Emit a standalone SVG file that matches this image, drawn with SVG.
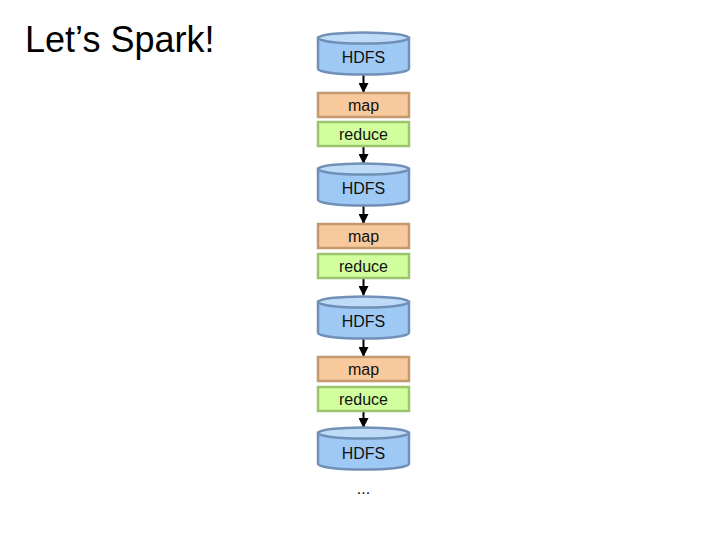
<svg xmlns="http://www.w3.org/2000/svg" width="720" height="540" viewBox="0 0 720 540">
<defs>
<style>
.t{font-family:"Liberation Sans",Arial,sans-serif;font-size:16px;fill:#111;text-anchor:middle}
.title{font-family:"Liberation Sans",Arial,sans-serif;font-size:36px;fill:#000}
.cyl{fill:#9EC9F5;stroke:#7090B8;stroke-width:2.5}
.top{fill:#BEDCF8;stroke:#7090B8;stroke-width:2.5}
.map{fill:#F9C99E;stroke:#C4996C;stroke-width:2.5}
.red{fill:#D2FF9E;stroke:#9CC46C;stroke-width:2.5}
.c{stroke:#000;stroke-width:2;fill:none;marker-end:url(#ah)}
</style>
<marker id="ah" viewBox="0 0 10 10" refX="9" refY="5" markerWidth="5" markerHeight="5" orient="auto">
<path d="M0,0 L10,5 L0,10 z" fill="#000"/>
</marker>
</defs>
<rect width="720" height="540" fill="#fff"/>
<text class="title" x="25" y="52">Let’s Spark!</text>
<g id="connectors">
<line class="c" x1="363.5" y1="75" x2="363.5" y2="92"/>
<line class="c" x1="363.5" y1="146" x2="363.5" y2="163"/>
<line class="c" x1="363.5" y1="206" x2="363.5" y2="223"/>
<line class="c" x1="363.5" y1="278" x2="363.5" y2="295"/>
<line class="c" x1="363.5" y1="339" x2="363.5" y2="356"/>
<line class="c" x1="363.5" y1="412" x2="363.5" y2="427"/>
</g>
<g id="hdfs1">
<path class="cyl" d="M318,38 L318,69 A45.5,5.5 0 0 0 409,69 L409,38 Z"/>
<ellipse class="top" cx="363.5" cy="38" rx="45.5" ry="5.5"/>
<text class="t" x="363.5" y="63">HDFS</text>
</g>
<g id="map1"><rect class="map" x="318" y="93" width="91" height="24"/><text class="t" x="363.5" y="111">map</text></g>
<g id="reduce1"><rect class="red" x="318" y="122" width="91" height="24"/><text class="t" x="363.5" y="140">reduce</text></g>
<g id="hdfs2">
<path class="cyl" d="M318,169 L318,200 A45.5,5.5 0 0 0 409,200 L409,169 Z"/>
<ellipse class="top" cx="363.5" cy="169" rx="45.5" ry="5.5"/>
<text class="t" x="363.5" y="194">HDFS</text>
</g>
<g id="map2"><rect class="map" x="318" y="224" width="91" height="24"/><text class="t" x="363.5" y="242">map</text></g>
<g id="reduce2"><rect class="red" x="318" y="254" width="91" height="24"/><text class="t" x="363.5" y="272">reduce</text></g>
<g id="hdfs3">
<path class="cyl" d="M318,302 L318,333 A45.5,5.5 0 0 0 409,333 L409,302 Z"/>
<ellipse class="top" cx="363.5" cy="302" rx="45.5" ry="5.5"/>
<text class="t" x="363.5" y="327">HDFS</text>
</g>
<g id="map3"><rect class="map" x="318" y="357" width="91" height="24"/><text class="t" x="363.5" y="375">map</text></g>
<g id="reduce3"><rect class="red" x="318" y="387" width="91" height="24"/><text class="t" x="363.5" y="405">reduce</text></g>
<g id="hdfs4">
<path class="cyl" d="M318,433 L318,464 A45.5,5.5 0 0 0 409,464 L409,433 Z"/>
<ellipse class="top" cx="363.5" cy="433" rx="45.5" ry="5.5"/>
<text class="t" x="363.5" y="459">HDFS</text>
</g>
<text class="t" x="363.5" y="494">...</text>
</svg>
